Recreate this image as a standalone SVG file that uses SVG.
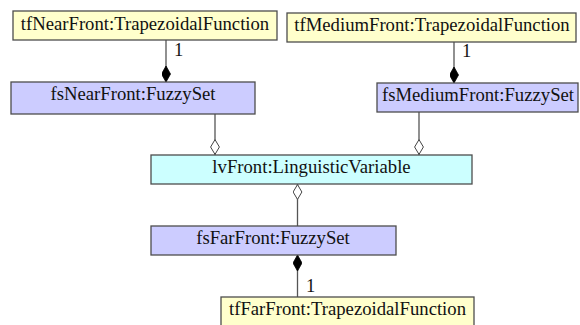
<svg xmlns="http://www.w3.org/2000/svg" width="580" height="325" viewBox="0 0 580 325">
  <style>
    .box { stroke: #4d4d4d; stroke-width: 1.3; }
    .tf { fill: #ffffcc; }
    .fs { fill: #ccccff; }
    .lv { fill: #ccffff; }
    .lbl { font-family: "Liberation Serif", "Times New Roman", serif; font-size: 18.7px; fill: #111; text-anchor: middle; }
    .mult { font-family: "Liberation Serif", "Times New Roman", serif; font-size: 18.7px; fill: #111; }
    .conn { stroke: #555; stroke-width: 1.3; fill: none; }
    .comp { marker-start: url(#filled); }
    .aggr { marker-start: url(#hollow); }
  </style>
  <defs>
    <marker id="filled" viewBox="0 0 16 9" refX="0" refY="4.5" markerWidth="16" markerHeight="9" markerUnits="userSpaceOnUse" orient="auto">
      <path d="M0,4.5 L8,0 L16,4.5 L8,9 Z" fill="#000" stroke="#000" stroke-width="0.8"/>
    </marker>
    <marker id="hollow" viewBox="0 0 16 10" refX="0" refY="5" markerWidth="16" markerHeight="10" markerUnits="userSpaceOnUse" orient="auto">
      <path d="M0.6,5 L8,0.6 L15.4,5 L8,9.4 Z" fill="#fff" stroke="#444" stroke-width="1"/>
    </marker>
  </defs>

  <g id="connectors">
    <path class="conn comp" d="M166,82 L166,40"/>
    <path class="conn comp" d="M454,83 L454,42"/>
    <path class="conn aggr" d="M215,155 L215,114"/>
    <path class="conn aggr" d="M419,155 L419,112"/>
    <path class="conn aggr" d="M297.5,184 L297.5,226"/>
    <path class="conn comp" d="M297.5,255 L297.5,297"/>
    <text class="mult" x="174" y="56">1</text>
    <text class="mult" x="462" y="57">1</text>
    <text class="mult" x="306" y="292">1</text>
  </g>

  <g id="tfNearFront">
    <rect class="box tf" x="13" y="11" width="264" height="29"/>
    <text class="lbl" x="145" y="30">tfNearFront:TrapezoidalFunction</text>
  </g>

  <g id="tfMediumFront">
    <rect class="box tf" x="287" y="13" width="289" height="29"/>
    <text class="lbl" x="432" y="31">tfMediumFront:TrapezoidalFunction</text>
  </g>

  <g id="fsNearFront">
    <rect class="box fs" x="11" y="82" width="244" height="32"/>
    <text class="lbl" x="133" y="99.5">fsNearFront:FuzzySet</text>
  </g>

  <g id="fsMediumFront">
    <rect class="box fs" x="377" y="83" width="201" height="29"/>
    <text class="lbl" x="478" y="100.5">fsMediumFront:FuzzySet</text>
  </g>

  <g id="lvFront">
    <rect class="box lv" x="151" y="155" width="321" height="29"/>
    <text class="lbl" x="311.5" y="172.5">lvFront:LinguisticVariable</text>
  </g>

  <g id="fsFarFront">
    <rect class="box fs" x="151" y="226" width="245" height="29"/>
    <text class="lbl" x="273" y="243.5">fsFarFront:FuzzySet</text>
  </g>

  <g id="tfFarFront">
    <rect class="box tf" x="221" y="297" width="253" height="31"/>
    <text class="lbl" x="347.5" y="315">tfFarFront:TrapezoidalFunction</text>
  </g>
</svg>
